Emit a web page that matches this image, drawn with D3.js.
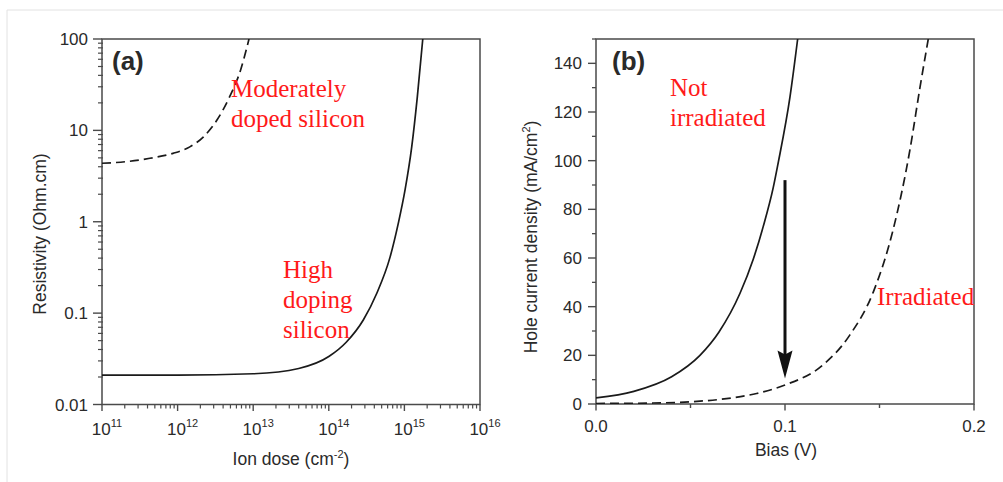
<!DOCTYPE html>
<html><head><meta charset="utf-8">
<script src="https://cdn.jsdelivr.net/npm/d3@7"></script>
<style>
body{margin:0;background:#fff}
svg{display:block}
text{font-family:"Liberation Sans",Arial,sans-serif;fill:#2a2a2a}
.red{font-family:"Liberation Serif","Times New Roman",serif;fill:#ff1a1a;font-size:25px}
</style>
</head><body>
<svg id="c" width="1003" height="482"></svg>
<script>
// ---------- data ----------
// Panel (a): resistivity vs ion dose
const doseHigh = [1e11, 1e12, 1e13, 4e13, 1e14, 1.7e14, 2.86e14, 4.3e14, 6.46e14, 8.3e14, 1.02e15, 1.25e15, 1.48e15, 1.75e15];
const rhoHigh  = [0.021, 0.021, 0.0217, 0.0248, 0.0335, 0.048, 0.084, 0.164, 0.41, 0.96, 2.23, 6.6, 23, 100];
const doseModerate = [1e11, 2.1e11, 4.3e11, 8.7e11, 1.45e12, 2.2e12, 3.3e12, 4.9e12, 6.8e12, 8.8e12];
const rhoModerate  = [4.37, 4.55, 4.95, 5.6, 6.6, 8.5, 12.9, 23.5, 45.6, 100];
// Panel (b): hole current density vs bias
const biasNot = [0, 0.02, 0.04, 0.055, 0.065, 0.0762, 0.0832, 0.0885, 0.0938, 0.0965, 0.1026, 0.1067];
const jNot    = [2.5, 5.2, 11.2, 20, 29.5, 45.5, 59.5, 73, 89, 99.5, 126, 150];
const biasIrr = [0, 0.03, 0.05, 0.0727, 0.085, 0.1, 0.12, 0.134, 0.1467, 0.157, 0.166, 0.1714, 0.1758];
const jIrr    = [0.2, 0.4, 0.9, 2.6, 4.3, 7.8, 16, 28, 46, 71, 104, 130, 150];
// arrow (bias, from J, to J)
const arrowBias = 0.1, arrowFrom = 92, arrowTo = 10.5;
// ticks
const doseExponents = [11, 12, 13, 14, 15, 16];
const rhoTickValues = [0.01, 0.1, 1, 10, 100];
const rhoTickLabels = ["0.01", "0.1", "1", "10", "100"];
const biasTickValues = [0, 0.1, 0.2];
const biasTickLabels = ["0.0", "0.1", "0.2"];
const biasMinor = [0.05, 0.15];
const jTickValues = [0, 20, 40, 60, 80, 100, 120, 140];
const jMinor = [10, 30, 50, 70, 90, 110, 130, 150];

// ---------- setup ----------
const svg = d3.select("#c");
const AX = "#4a4a4a";
svg.append("line").attr("x1",7).attr("y1",10).attr("x2",1003).attr("y2",10).attr("stroke","#e2e2e2");
svg.append("line").attr("x1",7).attr("y1",10).attr("x2",7).attr("y2",482).attr("stroke","#e2e2e2");

// ---------- panel (a) ----------
const xA = d3.scaleLog().domain([1e11, 1e16]).range([102, 480]);
const yA = d3.scaleLog().domain([0.01, 100]).range([404.5, 39]);
const gA = svg.append("g");
gA.append("clipPath").attr("id","clipA").append("rect")
  .attr("x",102).attr("y",39).attr("width",378).attr("height",365.5);

// minor ticks
const doseMinor = [];
for (let e = 11; e < 16; e++) for (let m = 2; m <= 9; m++) doseMinor.push(m * Math.pow(10, e));
const rhoMinor = [];
for (let e = -2; e < 2; e++) for (let m = 2; m <= 9; m++) rhoMinor.push(m * Math.pow(10, e));

gA.selectAll(".xmin").data(doseMinor).join("line")
  .attr("x1", d => xA(d)).attr("x2", d => xA(d)).attr("y1", 404.5).attr("y2", 408.5)
  .attr("stroke", AX).attr("stroke-width", 1.2);
gA.selectAll(".xmaj").data(doseExponents).join("line")
  .attr("x1", d => xA(Math.pow(10, d))).attr("x2", d => xA(Math.pow(10, d))).attr("y1", 404.5).attr("y2", 411)
  .attr("stroke", AX).attr("stroke-width", 1.4);
gA.selectAll(".ymin").data(rhoMinor).join("line")
  .attr("x1", 98).attr("x2", 103).attr("y1", d => yA(d)).attr("y2", d => yA(d))
  .attr("stroke", AX).attr("stroke-width", 1.2);
gA.selectAll(".ymaj").data(rhoTickValues).join("line")
  .attr("x1", 93).attr("x2", 102).attr("y1", d => yA(d)).attr("y2", d => yA(d))
  .attr("stroke", AX).attr("stroke-width", 1.4);

// tick labels
const xlA = gA.selectAll(".xl").data(doseExponents).join("text")
  .attr("x", d => xA(Math.pow(10, d)) + 5).attr("y", 435).attr("text-anchor","middle").attr("font-size","17px");
xlA.append("tspan").text("10");
xlA.append("tspan").attr("dy", -8).attr("font-size","11px").text(d => d);
gA.selectAll(".yl").data(rhoTickValues).join("text")
  .attr("x", 88).attr("y", d => yA(d) + 6).attr("text-anchor","end").attr("font-size","17px")
  .text((d, i) => rhoTickLabels[i]);

// frame
gA.append("rect").attr("x",102).attr("y",39).attr("width",378).attr("height",365.5)
  .attr("fill","none").attr("stroke",AX).attr("stroke-width",1.5);

// curves
const lineA = d3.line().x(d => xA(d[0])).y(d => yA(d[1])).curve(d3.curveMonotoneX);
gA.append("path").datum(doseHigh.map((d, i) => [d, rhoHigh[i]]))
  .attr("d", lineA).attr("fill","none").attr("stroke","#1a1a1a").attr("stroke-width",1.7)
  .attr("clip-path","url(#clipA)");
gA.append("path").datum(doseModerate.map((d, i) => [d, rhoModerate[i]]))
  .attr("d", lineA).attr("fill","none").attr("stroke","#1a1a1a").attr("stroke-width",1.7)
  .attr("stroke-dasharray","9,5").attr("clip-path","url(#clipA)");

// titles
const xtA = gA.append("text").attr("x", 291).attr("y", 465).attr("text-anchor","middle").attr("font-size","17.5px");
xtA.append("tspan").text("Ion dose (cm");
xtA.append("tspan").attr("dy",-7).attr("font-size","11px").text("-2");
xtA.append("tspan").attr("dy",7).text(")");
gA.append("text").attr("transform","translate(46,234) rotate(-90)").attr("text-anchor","middle")
  .attr("font-size","17.5px").text("Resistivity (Ohm.cm)");
gA.append("text").attr("x",112).attr("y",70).attr("font-size","26px").attr("font-weight","bold").attr("fill","#222").text("(a)");
gA.append("text").attr("class","red").attr("x",231).attr("y",97).text("Moderately");
gA.append("text").attr("class","red").attr("x",231).attr("y",127).text("doped silicon");
gA.append("text").attr("class","red").attr("x",283).attr("y",278).text("High");
gA.append("text").attr("class","red").attr("x",283).attr("y",308).text("doping");
gA.append("text").attr("class","red").attr("x",283).attr("y",338).text("silicon");

// ---------- panel (b) ----------
const xB = d3.scaleLinear().domain([0, 0.2]).range([596, 974]);
const yB = d3.scaleLinear().domain([0, 150]).range([404, 39]);
const gB = svg.append("g");
gB.append("clipPath").attr("id","clipB").append("rect")
  .attr("x",596).attr("y",39).attr("width",378).attr("height",365);

gB.selectAll(".xmaj").data(biasTickValues).join("line")
  .attr("x1", d => xB(d)).attr("x2", d => xB(d)).attr("y1", 404).attr("y2", 410.5)
  .attr("stroke", AX).attr("stroke-width", 1.4);
gB.selectAll(".xmin").data(biasMinor).join("line")
  .attr("x1", d => xB(d)).attr("x2", d => xB(d)).attr("y1", 404).attr("y2", 408)
  .attr("stroke", AX).attr("stroke-width", 1.4);
gB.selectAll(".ymaj").data(jTickValues).join("line")
  .attr("x1", 588).attr("x2", 596).attr("y1", d => yB(d)).attr("y2", d => yB(d))
  .attr("stroke", AX).attr("stroke-width", 1.4);
gB.selectAll(".ymin").data(jMinor).join("line")
  .attr("x1", 592).attr("x2", 596).attr("y1", d => yB(d)).attr("y2", d => yB(d))
  .attr("stroke", AX).attr("stroke-width", 1.3);

gB.selectAll(".xl").data(biasTickValues).join("text")
  .attr("x", d => xB(d)).attr("y", 432).attr("text-anchor","middle").attr("font-size","17px")
  .text((d, i) => biasTickLabels[i]);
gB.selectAll(".yl").data(jTickValues).join("text")
  .attr("x", 582).attr("y", d => yB(d) + 6).attr("text-anchor","end").attr("font-size","17px")
  .text(d => d);

gB.append("rect").attr("x",596).attr("y",39).attr("width",378).attr("height",365)
  .attr("fill","none").attr("stroke",AX).attr("stroke-width",1.5);

const lineB = d3.line().x(d => xB(d[0])).y(d => yB(d[1])).curve(d3.curveMonotoneX);
gB.append("path").datum(biasNot.map((d, i) => [d, jNot[i]]))
  .attr("d", lineB).attr("fill","none").attr("stroke","#1a1a1a").attr("stroke-width",1.7)
  .attr("clip-path","url(#clipB)");
gB.append("path").datum(biasIrr.map((d, i) => [d, jIrr[i]]))
  .attr("d", lineB).attr("fill","none").attr("stroke","#1a1a1a").attr("stroke-width",1.7)
  .attr("stroke-dasharray","9,5").attr("clip-path","url(#clipB)");

// arrow
const ax = xB(arrowBias), ay0 = yB(arrowFrom), ay1 = yB(arrowTo);
gB.append("line").attr("x1", ax).attr("x2", ax).attr("y1", ay0).attr("y2", ay1 - 20)
  .attr("stroke","#111").attr("stroke-width",3);
gB.append("path").attr("d", `M${ax - 7.5},${ay1 - 28} L${ax},${ay1 - 24} L${ax + 7.5},${ay1 - 28} L${ax},${ay1} Z`)
  .attr("fill","#111");

gB.append("text").attr("x", 786).attr("y", 456).attr("text-anchor","middle").attr("font-size","17.5px").text("Bias (V)");
const ytB = gB.append("text").attr("transform","translate(537,237) rotate(-90)").attr("text-anchor","middle").attr("font-size","17.5px");
ytB.append("tspan").text("Hole current density (mA/cm");
ytB.append("tspan").attr("dy",-7).attr("font-size","11px").text("2");
ytB.append("tspan").attr("dy",7).text(")");
gB.append("text").attr("x",612).attr("y",70).attr("font-size","26px").attr("font-weight","bold").attr("fill","#222").text("(b)");
gB.append("text").attr("class","red").attr("x",670).attr("y",96).text("Not");
gB.append("text").attr("class","red").attr("x",670).attr("y",126).text("irradiated");
gB.append("text").attr("class","red").attr("x",877).attr("y",305).text("Irradiated");
</script>
</body></html>
